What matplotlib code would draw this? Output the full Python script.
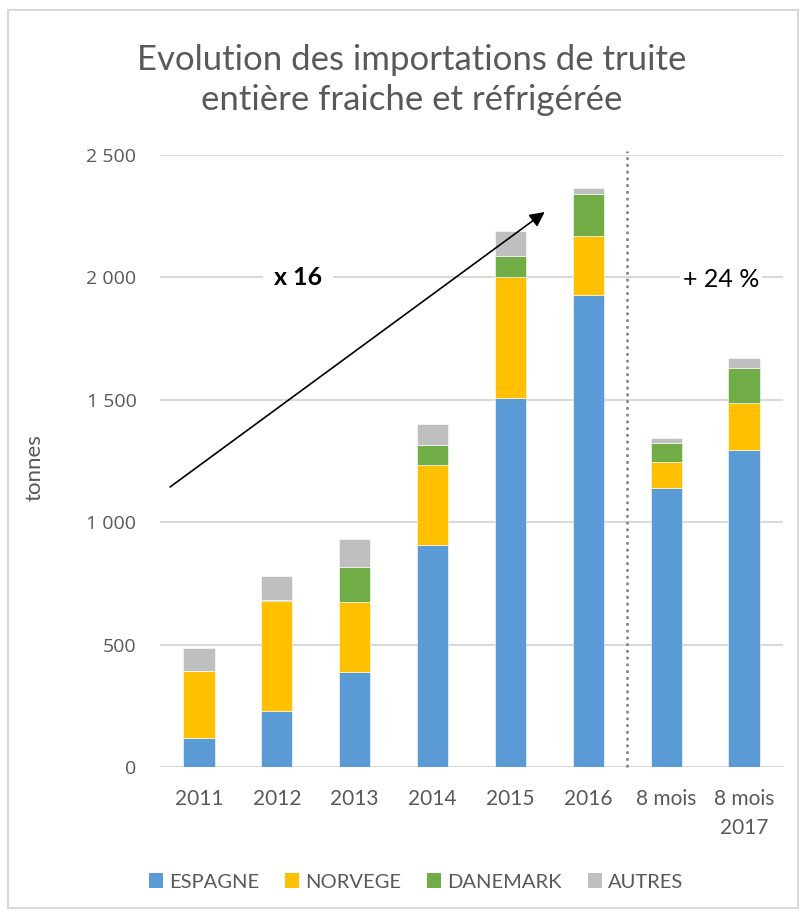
import numpy as np
import matplotlib

matplotlib.use("Agg")
import matplotlib.pyplot as plt
from matplotlib.patches import Rectangle, Patch

plt.rcParams["font.family"] = ["Lato", "DejaVu Sans"]

# data (tonnes)
categories = ["2011", "2012", "2013", "2014", "2015", "2016", "8 mois", "8 mois\n2017"]
espagne = [118, 229, 388, 907, 1509, 1928, 1140, 1295]
norvege = [274, 449, 286, 327, 493, 242, 106, 192]
danemark = [0, 5, 143, 81, 87, 172, 78, 144]
autres = [94, 97, 114, 86, 102, 25, 20, 40]
series_names = ["ESPAGNE", "NORVEGE", "DANEMARK", "AUTRES"]
colors = ["#5B9BD5", "#FFC000", "#70AD47", "#BFBFBF"]

TEXT = "#595959"
GRID = "#D9D9D9"

W, H = 803, 914
fig = plt.figure(figsize=(W / 100, H / 100), dpi=100)
ax = fig.add_axes([160 / W, 1 - 767 / H, 623 / W, 612 / H])

x = np.arange(len(categories))
bottom = np.zeros(len(categories))
for vals, c in zip([espagne, norvege, danemark, autres], colors):
    ax.bar(x, vals, width=0.40, bottom=bottom, color=c, edgecolor="white",
           linewidth=0.4, zorder=3)
    bottom += np.asarray(vals, dtype=float)

ax.set_xlim(-0.5, len(categories) - 0.5)
ax.set_ylim(0, 2500)
ax.set_yticks(np.arange(0, 2501, 500))
ax.set_yticklabels([f"{v:,}".replace(",", " ") for v in range(0, 2501, 500)],
                   family=["Open Sans", "DejaVu Sans"], fontsize=14)
ax.set_xticks(x)
ax.set_xticklabels(categories, fontsize=15, linespacing=1.55)
ax.yaxis.grid(True, color=GRID, linewidth=1.5, zorder=0)
ax.set_axisbelow(True)
for s in ax.spines.values():
    s.set_visible(False)
ax.tick_params(axis="both", length=0, colors=TEXT)
ax.tick_params(axis="x", pad=16)
ax.tick_params(axis="y", pad=17)

# separator between full years and 8-month figures
ax.plot([5.5, 5.5], [0, 2515], color="#7F7F7F", linewidth=1.8,
        linestyle=(0, (1.1, 1.6)), dash_capstyle="butt", clip_on=False, zorder=4)

# growth arrow and annotations
ax.annotate("", xy=(4.44, 2267), xytext=(-0.37, 1144),
            arrowprops=dict(arrowstyle="-|>", color="black", lw=1.2,
                            mutation_scale=22, shrinkA=0, shrinkB=0), zorder=5)
ax.text(1.27, 2000, "x 16", ha="center", va="center", fontsize=18,
        fontweight="bold", color="black", zorder=4,
        bbox=dict(facecolor="white", edgecolor="none", pad=8))
ax.text(6.7, 1990, "+ 24 %", ha="center", va="center", fontsize=18,
        color="black", zorder=4,
        bbox=dict(facecolor="white", edgecolor="none", pad=2))

fig.text(35 / W, 1 - 468 / H, "tonnes", rotation=90, ha="center", va="center",
         fontsize=16, color=TEXT)

fig.text(412 / W, 1 - 80 / H,
         "Evolution des importations de truite\nentière fraiche et réfrigérée",
         ha="center", va="center", fontsize=25, color=TEXT, linespacing=1.3)

handles = [Patch(facecolor=c, edgecolor="none") for c in colors]
leg = fig.legend(handles, series_names, loc="center", ncol=4,
                 bbox_to_anchor=(416 / W, 1 - 882 / H), frameon=False, fontsize=14.5,
                 handlelength=0.7, handleheight=0.7, handletextpad=0.3,
                 columnspacing=1.3)
for t in leg.get_texts():
    t.set_color(TEXT)

fig.patches.append(Rectangle((8 / W, 1 - 908 / H), 790 / W, 898 / H,
                             transform=fig.transFigure, fill=False,
                             edgecolor=GRID, linewidth=1.5))

fig.savefig("out.png", dpi=100)
